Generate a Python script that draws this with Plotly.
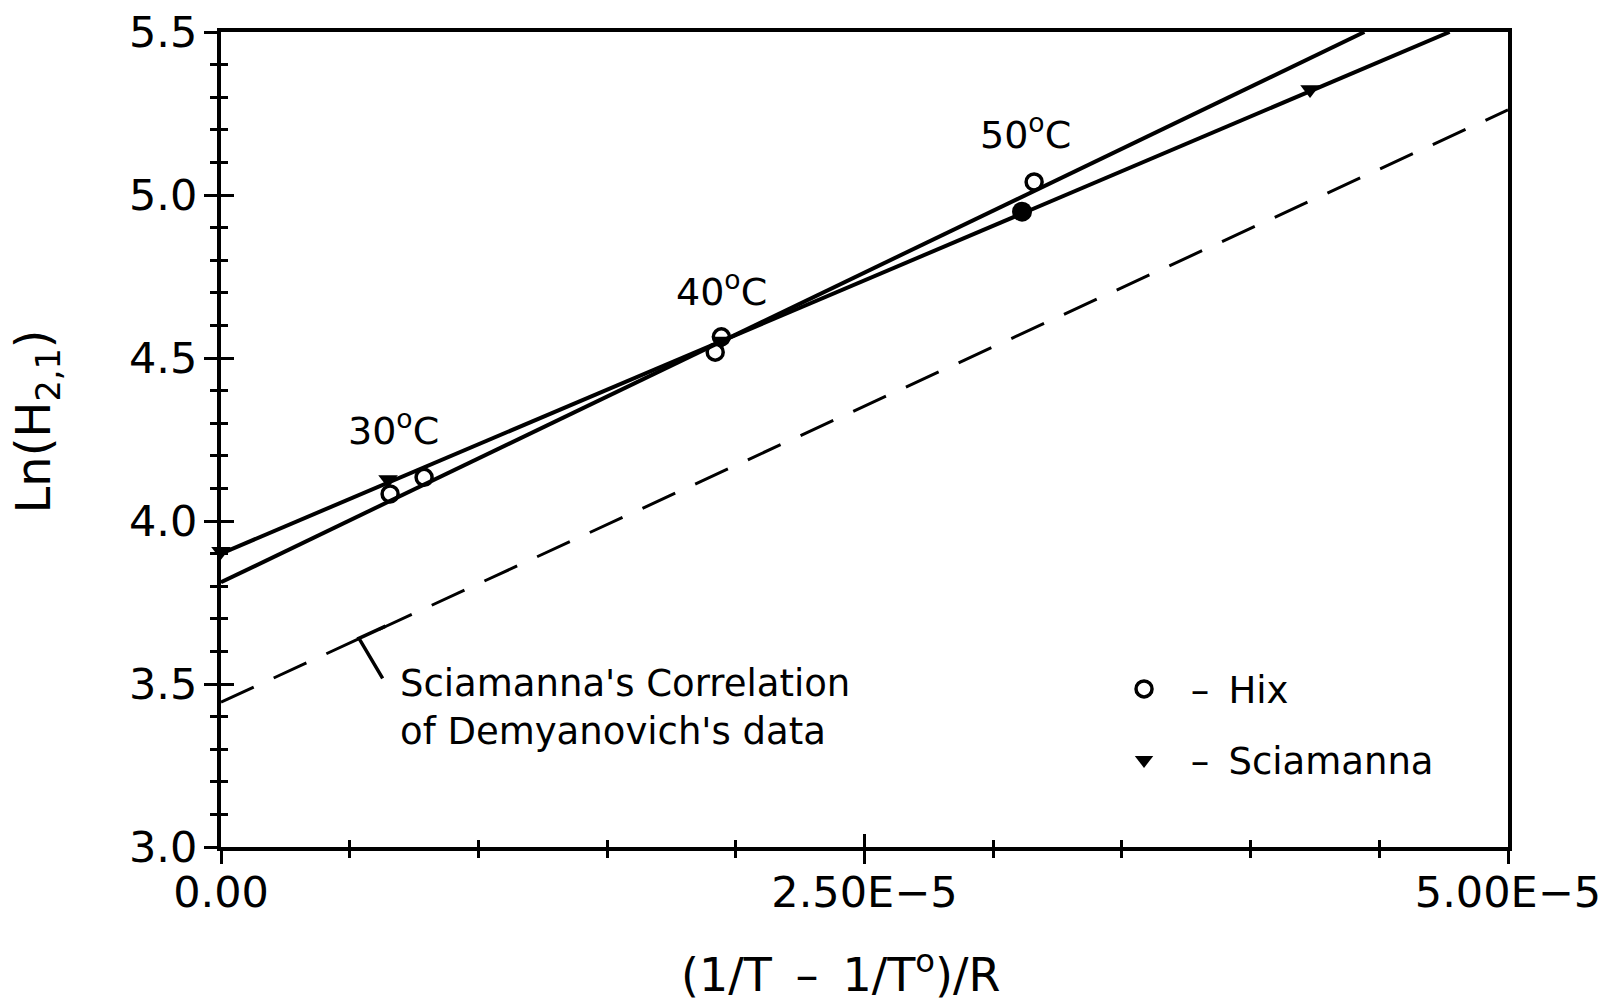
import plotly.graph_objects as go

# ---- data ----
hix_x = [6.57e-6, 7.89e-6, 1.920e-5, 1.944e-5, 3.159e-5]
hix_y = [4.083, 4.134, 4.518, 4.565, 5.040]
hix_filled_x = [3.112e-5]
hix_filled_y = [4.949]

sci_x = [0.0, 6.49e-6, 1.944e-5, 4.231e-5]
sci_y = [3.907, 4.127, 4.552, 5.324]

hix_fit_x = [0.0, 4.442e-5]
hix_fit_y = [3.812, 5.5]
sci_fit_x = [0.0, 4.773e-5]
sci_fit_y = [3.900, 5.5]
corr_x = [0.0, 5.0e-5]
corr_y = [3.444, 5.261]

temp_labels = ["30<sup>o</sup>C", "40<sup>o</sup>C", "50<sup>o</sup>C"]
temp_x = [6.69e-6, 1.944e-5, 3.127e-5]
temp_y = [4.285, 4.712, 5.192]

x_tickvals = [0.0, 2.5e-5, 5.0e-5]
x_ticktext = ["0.00", "2.50E\u22125", "5.00E\u22125"]

FONT = "DejaVu Sans"
BLACK = "black"
NB = "\u00a0"
THIN = "\u2009"

fig = go.Figure()

fig.add_trace(go.Scatter(x=hix_fit_x, y=hix_fit_y, mode="lines",
                         line=dict(color=BLACK, width=4), showlegend=False))
fig.add_trace(go.Scatter(x=sci_fit_x, y=sci_fit_y, mode="lines",
                         line=dict(color=BLACK, width=4), showlegend=False))
fig.add_trace(go.Scatter(x=corr_x, y=corr_y, mode="lines",
                         line=dict(color=BLACK, width=3, dash="36px,22px"),
                         showlegend=False))

fig.add_trace(go.Scatter(x=hix_x, y=hix_y, mode="markers",
                         name=NB + "\u2013" + NB + THIN + "Hix",
                         legendgroup="a", cliponaxis=False,
                         marker=dict(symbol="circle-open", size=16, color=BLACK,
                                     line=dict(width=3.5, color=BLACK))))
fig.add_trace(go.Scatter(x=hix_filled_x, y=hix_filled_y, mode="markers",
                         showlegend=False, cliponaxis=False,
                         marker=dict(symbol="circle", size=20, color=BLACK)))
fig.add_trace(go.Scatter(x=sci_x, y=sci_y, mode="markers",
                         name=NB + "\u2013" + NB + THIN + "Sciamanna",
                         legendgroup="b", cliponaxis=False,
                         marker=dict(symbol="triangle-down", size=17, color=BLACK)))

# invisible trace to create an overlay axis for inward ticks
fig.add_trace(go.Scatter(x=[0], y=[3.0], xaxis="x2", yaxis="y2", mode="markers",
                         marker=dict(opacity=0), showlegend=False, hoverinfo="skip"))

for lab, tx, ty in zip(temp_labels, temp_x, temp_y):
    fig.add_annotation(x=tx, y=ty, text=lab, showarrow=False,
                       font=dict(family=FONT, size=38, color=BLACK))

fig.add_annotation(x=0.1375, y=0.171, xref="paper", yref="paper",
                   text="Sciamanna's Correlation<br>of Demyanovich's data",
                   showarrow=False, xanchor="left", yanchor="middle", align="left",
                   font=dict(family=FONT, size=37, color=BLACK))
fig.add_shape(type="path", xref="paper", yref="paper",
              path="M 0.1279 0.271 L 0.1072 0.256 L 0.1256 0.207",
              line=dict(color=BLACK, width=3.5))

# axis titles placed as in the reference
fig.add_annotation(x=0.4817, y=-0.153, xref="paper", yref="paper",
                   text="(1/T" + NB + THIN + "\u2013" + NB + THIN + "1/T<sup>o</sup>)/R",
                   showarrow=False, xanchor="center", yanchor="middle",
                   font=dict(family=FONT, size=46, color=BLACK))
fig.add_annotation(x=-0.143, y=0.522, xref="paper", yref="paper",
                   text="Ln(H<sub>2,1</sub>)", showarrow=False, textangle=-90,
                   xanchor="center", yanchor="middle",
                   font=dict(family=FONT, size=48, color=BLACK))

common_x = dict(range=[0, 5e-5], showgrid=False, zeroline=False, automargin=False)
common_y = dict(range=[3.0, 5.5], showgrid=False, zeroline=False, automargin=False)

fig.update_layout(
    width=1609, height=1006,
    margin=dict(l=221, r=101, t=32, b=159, autoexpand=False),
    paper_bgcolor="white", plot_bgcolor="white",
    font=dict(family=FONT, color=BLACK),
    xaxis=dict(**common_x, tickvals=x_tickvals, ticktext=x_ticktext,
               showline=True, linewidth=4, linecolor=BLACK, mirror=True,
               ticks="outside", ticklen=13, tickwidth=2.5, tickcolor=BLACK,
               minor=dict(dtick=5e-6, tick0=0, ticks="outside", ticklen=7,
                          tickwidth=2.5, tickcolor=BLACK),
               tickfont=dict(family=FONT, size=43, color=BLACK),
               ticklabelstandoff=-9),
    yaxis=dict(**common_y, dtick=0.5, tick0=3.0, tickformat=".1f",
               showline=True, linewidth=4, linecolor=BLACK, mirror=True,
               ticks="outside", ticklen=13, tickwidth=2.5, tickcolor=BLACK,
               minor=dict(dtick=0.1, tick0=3.0, ticks="outside", ticklen=7,
                          tickwidth=2.5, tickcolor=BLACK),
               tickfont=dict(family=FONT, size=43, color=BLACK),
               ticklabelstandoff=-2),
    xaxis2=dict(**common_x, overlaying="x", side="bottom", anchor="y",
                tickvals=x_tickvals, showticklabels=False, showline=False,
                ticks="inside", ticklen=13, tickwidth=2.5, tickcolor=BLACK,
                minor=dict(dtick=5e-6, tick0=0, ticks="inside", ticklen=7,
                           tickwidth=2.5, tickcolor=BLACK)),
    yaxis2=dict(**common_y, overlaying="y", side="left", anchor="x",
                dtick=0.5, tick0=3.0, showticklabels=False, showline=False,
                ticks="inside", ticklen=13, tickwidth=2.5, tickcolor=BLACK,
                minor=dict(dtick=0.1, tick0=3.0, ticks="inside", ticklen=7,
                           tickwidth=2.5, tickcolor=BLACK)),
    legend=dict(x=0.69, y=0.2315, xanchor="left", yanchor="top",
                bgcolor="rgba(0,0,0,0)", borderwidth=0,
                font=dict(family=FONT, size=37, color=BLACK),
                itemwidth=60, tracegroupgap=20, traceorder="grouped"),
)

fig.write_html("out.html")
